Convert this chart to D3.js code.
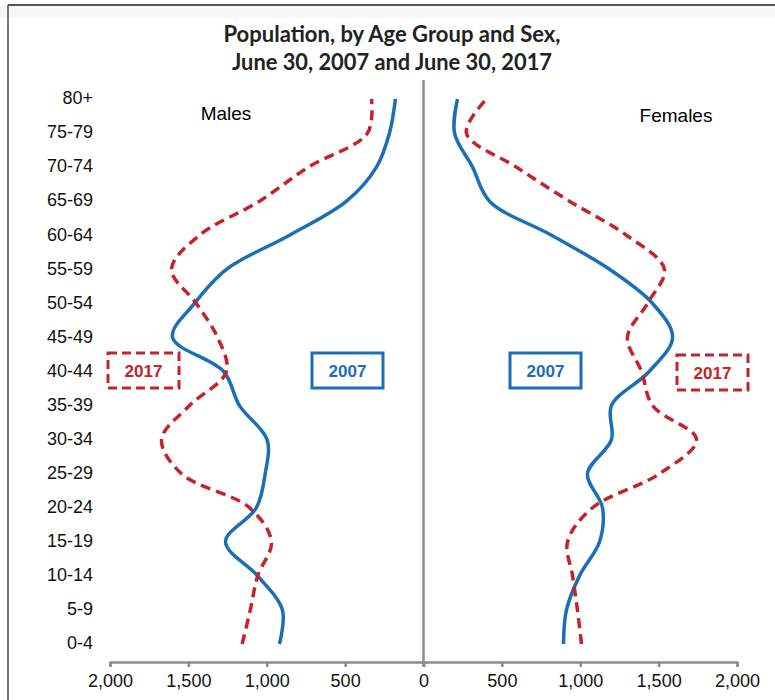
<!DOCTYPE html>
<html>
<head>
<meta charset="utf-8">
<script src="https://cdn.jsdelivr.net/npm/d3@7"></script>
<style>
  body { margin: 0; background: #fff; }
  svg { display: block; }
</style>
</head>
<body>
<div id="chart-area"></div>
<script>
// age groups, youngest first
var ageGroups = ["0-4","5-9","10-14","15-19","20-24","25-29","30-34","35-39","40-44",
                 "45-49","50-54","55-59","60-64","65-69","70-74","75-79","80+"];
var males2007   = [919, 900, 1058, 1263, 1066, 1010, 998, 1174, 1275, 1601, 1461, 1257, 855, 491, 300, 217, 179];
var males2017   = [1157, 1105, 1058, 970, 1110, 1544, 1671, 1493, 1257, 1314, 1450, 1608, 1429, 1046, 735, 357, 332];
var females2007 = [893, 912, 995, 1123, 1142, 1046, 1199, 1199, 1440, 1589, 1461, 1187, 817, 421, 313, 198, 217];
var females2017 = [1008, 982, 951, 919, 1078, 1506, 1742, 1461, 1391, 1301, 1429, 1537, 1295, 931, 593, 274, 402];
var tickValues = [0, 500, 1000, 1500, 2000];
var titleLines = ["Population, by Age Group and Sex,", "June 30, 2007 and June 30, 2017"];

var canvasWidth = 775;
var canvasHeight = 700;
var blue = "#1b6fb7";
var red = "#c3232c";
var grey = "#8c8c8c";

var svg = d3.select("#chart-area")
    .append("svg")
        .attr("width", canvasWidth)
        .attr("height", canvasHeight)
        .style("font-family", "Arial, 'Liberation Sans', sans-serif");

// frame
svg.append("rect")
    .attr("x", 0).attr("y", 6)
    .attr("width", canvasWidth).attr("height", 12)
    .attr("fill", "#f7f7f7");
svg.append("line")
    .attr("x1", 8).attr("x2", canvasWidth)
    .attr("y1", 5).attr("y2", 5)
    .attr("stroke", "#555").attr("stroke-width", 2);
svg.append("line")
    .attr("x1", 8).attr("x2", 8)
    .attr("y1", 5).attr("y2", canvasHeight)
    .attr("stroke", "#777").attr("stroke-width", 2);
svg.append("rect")
    .attr("x", 9).attr("y", 18)
    .attr("width", canvasWidth - 9).attr("height", canvasHeight - 18)
    .attr("fill", "#fff");

// title
svg.selectAll(".title")
    .data(titleLines)
    .enter().append("text")
        .attr("class", "title")
        .attr("x", 392)
        .attr("y", (d, i) => 42 + i * 28)
        .attr("text-anchor", "middle")
        .attr("font-family", "Lato, 'Open Sans', sans-serif")
        .attr("font-weight", "bold")
        .attr("font-size", "23px")
        .attr("fill", "#222")
        .attr("textLength", (d, i) => i == 0 ? 337 : 320)
        .attr("lengthAdjust", "spacingAndGlyphs")
        .text(d => d);

var center = 423.5;
var half = 313.5;

var xLeft = d3.scaleLinear().domain([0, 2000]).range([center, center - half]);
var xRight = d3.scaleLinear().domain([0, 2000]).range([center, center + half]);
var y = d3.scalePoint().domain(ageGroups).range([644, 99]);

var axisY = 662;

// x axes
var fmt = d3.format(",");
var leftAxis = svg.append("g")
    .attr("transform", `translate(0,${axisY})`)
    .call(d3.axisBottom(xLeft).tickValues(tickValues).tickSize(5).tickFormat(fmt));
var rightAxis = svg.append("g")
    .attr("transform", `translate(0,${axisY})`)
    .call(d3.axisBottom(xRight).tickValues(tickValues.slice(1)).tickSize(5).tickFormat(fmt));
[leftAxis, rightAxis].forEach(a => {
    a.select(".domain").attr("stroke", grey).attr("stroke-width", 2.5);
    a.selectAll(".tick line").attr("stroke", grey).attr("stroke-width", 2.5);
    a.selectAll(".tick text")
        .attr("font-family", "Arial, 'Liberation Sans', sans-serif")
        .attr("font-size", "18px")
        .attr("fill", "#111")
        .attr("dy", "0.95em");
});

// centre line
svg.append("line")
    .attr("x1", center).attr("x2", center)
    .attr("y1", 80).attr("y2", axisY + 4)
    .attr("stroke", grey).attr("stroke-width", 2.5);

// age labels
svg.selectAll(".age")
    .data(ageGroups)
    .enter().append("text")
        .attr("class", "age")
        .attr("x", 93)
        .attr("y", d => y(d) - 1)
        .attr("dy", "0.35em")
        .attr("text-anchor", "end")
        .attr("font-size", "18px")
        .attr("fill", "#111")
        .text(d => d);

// panel labels
svg.append("text")
    .attr("x", 226).attr("y", 120)
    .attr("text-anchor", "middle")
    .attr("font-size", "19px")
    .text("Males");
svg.append("text")
    .attr("x", 676).attr("y", 122)
    .attr("text-anchor", "middle")
    .attr("font-size", "19px")
    .text("Females");

// lines
function drawLine(values, xs, color, dashed) {
    var line = d3.line()
        .x((d, i) => xs(d))
        .y((d, i) => y(ageGroups[i]))
        .curve(d3.curveCatmullRom.alpha(0.5));
    svg.append("path")
        .datum(values)
        .attr("d", line)
        .attr("fill", "none")
        .attr("stroke", color)
        .attr("stroke-width", 3.5)
        .attr("stroke-dasharray", dashed ? "10,6" : null);
}
drawLine(males2007, xLeft, blue, false);
drawLine(males2017, xLeft, red, true);
drawLine(females2007, xRight, blue, false);
drawLine(females2017, xRight, red, true);

// legend boxes
var boxes = [
    { x: 108, y: 353, label: "2017", color: red, dashed: true },
    { x: 312, y: 353, label: "2007", color: blue, dashed: false },
    { x: 510, y: 353, label: "2007", color: blue, dashed: false },
    { x: 677, y: 355, label: "2017", color: red, dashed: true }
];
boxes.forEach(b => {
    svg.append("rect")
        .attr("x", b.x).attr("y", b.y)
        .attr("width", 71).attr("height", 35)
        .attr("fill", "#fff")
        .attr("stroke", b.color)
        .attr("stroke-width", 3)
        .attr("stroke-dasharray", b.dashed ? "9,5" : null);
    svg.append("text")
        .attr("x", b.x + 35.5).attr("y", b.y + 24)
        .attr("text-anchor", "middle")
        .attr("font-size", "17px")
        .attr("font-weight", "bold")
        .attr("fill", b.color)
        .text(b.label);
});
</script>
</body>
</html>
